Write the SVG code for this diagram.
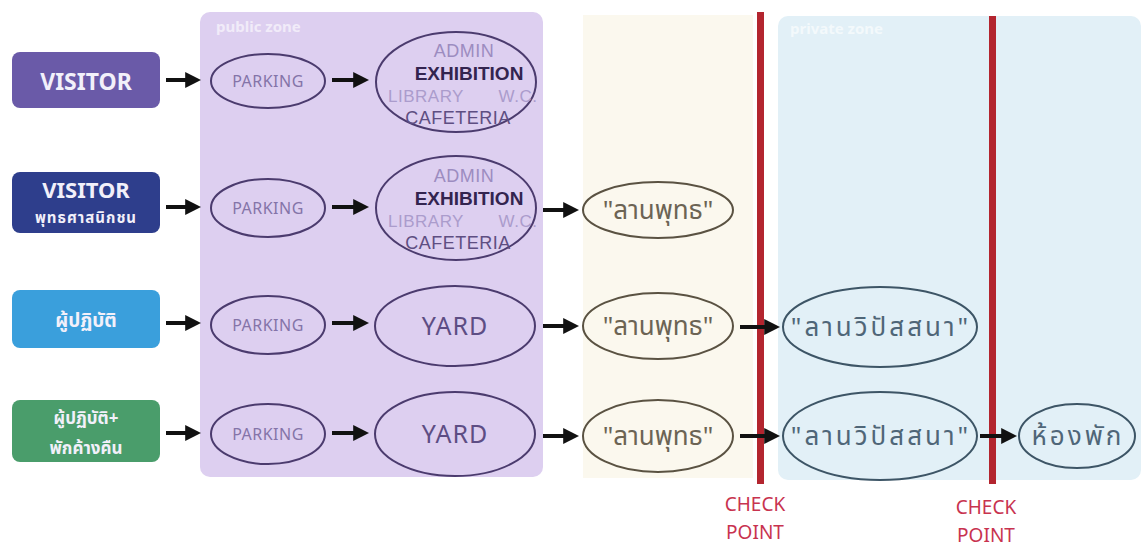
<svg xmlns="http://www.w3.org/2000/svg" width="1141" height="550" viewBox="0 0 1141 550">
<style>
text{font-family:"Noto Sans","Noto Sans Thai","Liberation Sans",sans-serif;text-anchor:middle}
.box{stroke:none}
.bt{fill:#f2f0fa;font-weight:bold}
.pe{fill:none;stroke:#4b3b6e;stroke-width:2}
.be{fill:none;stroke:#5a5242;stroke-width:2}
.ce{fill:none;stroke:#3d5566;stroke-width:2}
.pk{fill:#8474a8;font-size:16px;letter-spacing:0.5px}
.fx{font-family:"Liberation Sans","Noto Sans",sans-serif}
.adm{fill:#9c8cc0;font-size:18px;letter-spacing:0.5px}
.exh{fill:#33244f;font-size:19px;font-weight:bold}
.lib{fill:#ab9ccc;font-size:17px;letter-spacing:0.5px}
.caf{fill:#5e4e82;font-size:18px;letter-spacing:0.5px}
.yard{fill:#5d4d84;font-size:25px;letter-spacing:1px}
.th1{fill:#6c6454;font-size:26px}
.th2{fill:#4f6678;font-size:26px;letter-spacing:3px}
.cp{fill:#c8334f;font-size:19px}
.arr{stroke:#111;stroke-width:4;fill:none;marker-end:url(#ah)}
.zl{fill:#ffffff;font-size:15px;font-weight:bold;opacity:0.6;text-anchor:start}
</style>
<defs>
<marker id="ah" markerWidth="4" markerHeight="4" refX="2.2" refY="2" orient="auto" markerUnits="strokeWidth">
<path d="M0,0 L4,2 L0,4 Z" fill="#111"/>
</marker>
</defs>
<rect width="1141" height="550" fill="#ffffff"/>
<g id="zones">
<rect x="200" y="12" width="343" height="465" rx="10" fill="#ddcff0"/>
<text class="zl" x="216" y="32">public zone</text>
<rect x="583" y="15" width="170" height="463" fill="#fbf8ee"/>
<rect x="778" y="16" width="363" height="464" rx="10" fill="#e2f0f7"/>
<text class="zl" x="790" y="34">private zone</text>
<rect x="757" y="12" width="7" height="472" fill="#b3252f"/>
<rect x="989" y="16" width="7" height="468" fill="#b3252f"/>
<text class="cp" x="755" y="511">CHECK</text>
<text class="cp" x="755" y="539">POINT</text>
<text class="cp" x="986" y="514">CHECK</text>
<text class="cp" x="986" y="542">POINT</text>
</g>
<g id="visitor">
<rect class="box" x="12" y="52" width="148" height="56" rx="8" fill="#6a5aa8"/>
<text class="bt" x="86" y="90" font-size="23">VISITOR</text>
</g>
<g id="visitor-buddhist">
<rect class="box" x="12" y="172" width="148" height="61" rx="8" fill="#2e3e8c"/>
<text class="bt" x="86" y="198" font-size="22">VISITOR</text>
<text class="bt" x="86" y="223" font-size="15" letter-spacing="1">พุทธศาสนิกชน</text>
</g>
<g id="practitioner">
<rect class="box" x="12" y="290" width="148" height="58" rx="8" fill="#3a9fdc"/>
<text class="bt" x="86" y="327" font-size="19">ผู้ปฏิบัติ</text>
</g>
<g id="practitioner-stay">
<rect class="box" x="12" y="400" width="148" height="62" rx="8" fill="#4a9d6b"/>
<text class="bt" x="86" y="424" font-size="17">ผู้ปฏิบัติ+</text>
<text class="bt" x="86" y="454" font-size="17">พักค้างคืน</text>
</g>
<g id="parking1"><ellipse class="pe" cx="268" cy="81" rx="57" ry="27"/><text class="pk" x="268" y="87">PARKING</text></g>
<g id="parking2"><ellipse class="pe" cx="268" cy="208" rx="57" ry="29"/><text class="pk" x="268" y="214">PARKING</text></g>
<g id="parking3"><ellipse class="pe" cx="268" cy="325" rx="57" ry="29"/><text class="pk" x="268" y="331">PARKING</text></g>
<g id="parking4"><ellipse class="pe" cx="268" cy="434" rx="57" ry="30"/><text class="pk" x="268" y="440">PARKING</text></g>
<g id="facilities1">
<ellipse class="pe" cx="456" cy="82" rx="80" ry="50"/>
<text class="fx adm" x="464" y="57">ADMIN</text>
<text class="fx exh" x="469" y="80">EXHIBITION</text>
<text class="fx lib" x="426" y="102">LIBRARY</text>
<text class="fx lib" x="518" y="102" font-size="13">W.C.</text>
<text class="fx caf" x="458" y="124">CAFETERIA</text>
</g>
<g id="facilities2">
<ellipse class="pe" cx="456" cy="208" rx="80" ry="52"/>
<text class="fx adm" x="464" y="182">ADMIN</text>
<text class="fx exh" x="469" y="205">EXHIBITION</text>
<text class="fx lib" x="426" y="227">LIBRARY</text>
<text class="fx lib" x="518" y="227" font-size="13">W.C.</text>
<text class="fx caf" x="458" y="249">CAFETERIA</text>
</g>
<g id="yard1"><ellipse class="pe" cx="455" cy="326" rx="80" ry="40"/><text class="yard" x="455" y="335">YARD</text></g>
<g id="yard2"><ellipse class="pe" cx="455" cy="434" rx="80" ry="42"/><text class="yard" x="455" y="443">YARD</text></g>
<g id="lanbuddha1"><ellipse class="be" cx="658" cy="210" rx="75" ry="28"/><text class="th1" x="658" y="219">"ลานพุทธ"</text></g>
<g id="lanbuddha2"><ellipse class="be" cx="658" cy="326" rx="75" ry="33"/><text class="th1" x="658" y="335">"ลานพุทธ"</text></g>
<g id="lanbuddha3"><ellipse class="be" cx="658" cy="436" rx="75" ry="36"/><text class="th1" x="658" y="445">"ลานพุทธ"</text></g>
<g id="lanvipassana1"><ellipse class="ce" cx="880" cy="327" rx="97" ry="40"/><text class="th2" x="881" y="336">"ลานวิปัสสนา"</text></g>
<g id="lanvipassana2"><ellipse class="ce" cx="880" cy="436" rx="97" ry="44"/><text class="th2" x="881" y="445">"ลานวิปัสสนา"</text></g>
<g id="room"><ellipse class="ce" cx="1077" cy="436" rx="58" ry="32"/><text class="th2" x="1078" y="445">ห้องพัก</text></g>
<g id="connectors">
<line class="arr" x1="166" y1="80" x2="194" y2="80"/>
<line class="arr" x1="166" y1="207" x2="194" y2="207"/>
<line class="arr" x1="166" y1="323" x2="194" y2="323"/>
<line class="arr" x1="166" y1="433" x2="194" y2="433"/>
<line class="arr" x1="332" y1="80" x2="362" y2="80"/>
<line class="arr" x1="332" y1="207" x2="362" y2="207"/>
<line class="arr" x1="332" y1="323" x2="362" y2="323"/>
<line class="arr" x1="332" y1="433" x2="362" y2="433"/>
<line class="arr" x1="543" y1="210" x2="572" y2="210"/>
<line class="arr" x1="543" y1="326" x2="572" y2="326"/>
<line class="arr" x1="543" y1="436" x2="572" y2="436"/>
<line class="arr" x1="740" y1="327" x2="773" y2="327"/>
<line class="arr" x1="740" y1="436" x2="773" y2="436"/>
<line class="arr" x1="980" y1="436" x2="1010" y2="436"/>
</g>
</svg>
